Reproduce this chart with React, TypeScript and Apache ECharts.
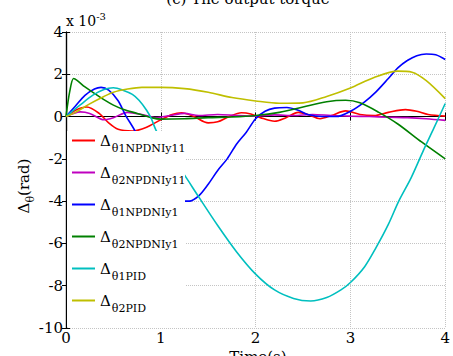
import React, { useEffect, useRef } from "react";
import * as echarts from "echarts";

// Δθ values in units of 1e-3 rad
const redT = [0, 0.1, 0.22, 0.35, 0.45, 0.55, 0.7, 0.85, 1.0, 1.12, 1.22, 1.35, 1.5, 1.6, 1.72, 1.85, 1.95, 2.05, 2.2, 2.32, 2.45, 2.55, 2.68, 2.8, 2.95, 3.1, 3.25, 3.4, 3.58, 3.7, 3.82, 4.0];
const redV = [0, 0.3, 0.45, 0.15, -0.3, -0.6, -0.68, -0.5, -0.15, 0.1, 0.18, 0.0, -0.3, -0.25, 0.0, 0.18, 0.12, -0.05, -0.22, -0.05, 0.2, 0.1, -0.1, 0.05, 0.27, 0.1, 0.05, 0.2, 0.33, 0.25, 0.1, 0.02];

const magT = [0, 0.15, 0.25, 0.4, 0.5, 0.65, 0.8, 0.95, 1.1, 1.25, 1.4, 1.6, 1.8, 2.0, 2.2, 2.4, 2.6, 2.8, 3.0, 3.2, 3.4, 3.6, 3.8, 4.0];
const magV = [0, 0.22, 0.15, -0.15, -0.05, 0.2, 0.1, -0.05, 0.05, 0.15, 0.05, 0.1, 0.05, 0.02, 0.08, 0.05, 0.1, 0.05, 0.02, 0.0, -0.03, -0.05, -0.1, -0.18];

const blueT = [0, 0.1, 0.2, 0.3, 0.37, 0.45, 0.55, 0.63, 0.73, 0.85, 1.0, 1.15, 1.25, 1.3, 1.4, 1.5, 1.6, 1.7, 1.8, 1.9, 2.0, 2.1, 2.2, 2.33, 2.45, 2.55, 2.7, 2.85, 3.0, 3.15, 3.27, 3.4, 3.5, 3.6, 3.7, 3.8, 3.9, 4.0];
const blueV = [0, 0.5, 1.0, 1.3, 1.38, 1.25, 0.75, 0.05, -0.7, -1.9, -3.1, -3.8, -4.0, -4.0, -3.75, -3.2, -2.55, -2.0, -1.3, -0.75, -0.1, 0.25, 0.4, 0.43, 0.3, 0.1, 0.0, 0.0, 0.25, 0.7, 1.17, 1.8, 2.3, 2.65, 2.88, 2.96, 2.92, 2.7];

const greenT = [0, 0.04, 0.08, 0.12, 0.2, 0.3, 0.4, 0.5, 0.6, 0.75, 0.9, 1.0, 1.25, 1.5, 1.75, 2.0, 2.25, 2.5, 2.75, 2.95, 3.1, 3.3, 3.5, 3.75, 4.0];
const greenV = [0, 1.2, 1.8, 1.7, 1.4, 1.1, 0.8, 0.54, 0.35, 0.15, -0.05, -0.12, -0.1, -0.05, -0.02, 0.05, 0.2, 0.45, 0.7, 0.77, 0.65, 0.2, -0.35, -1.2, -2.0];

const cyanT = [0, 0.15, 0.28, 0.4, 0.5, 0.6, 0.7, 0.77, 0.85, 0.9, 0.95, 1.1, 1.24, 1.4, 1.6, 1.8, 2.0, 2.2, 2.4, 2.58, 2.75, 2.9, 3.0, 3.15, 3.27, 3.4, 3.51, 3.64, 3.77, 3.88, 4.0];
const cyanV = [0, 0.55, 1.0, 1.28, 1.36, 1.25, 1.05, 0.77, 0.3, -0.1, -0.65, -1.8, -2.7, -3.8, -5.15, -6.4, -7.45, -8.2, -8.6, -8.72, -8.56, -8.2, -7.85, -7.1, -6.2, -5.1, -4.0, -2.9, -1.6, -0.55, 0.62];

const yellowT = [0, 0.1, 0.25, 0.4, 0.5, 0.65, 0.8, 1.0, 1.25, 1.5, 1.75, 2.0, 2.25, 2.5, 2.75, 3.0, 3.25, 3.5, 3.65, 3.8, 4.0];
const yellowV = [0, 0.2, 0.6, 0.95, 1.15, 1.3, 1.38, 1.38, 1.32, 1.15, 0.9, 0.74, 0.63, 0.65, 0.95, 1.35, 1.85, 2.15, 2.1, 1.7, 0.85];

const seriesNames = ["Δθ1NPDNIy11", "Δθ2NPDNIy11", "Δθ1NPDNIy1", "Δθ2NPDNIy1", "Δθ1PID", "Δθ2PID"];
const seriesColors = ["#ff0000", "#bf00bf", "#0000ff", "#008000", "#00bfbf", "#bfbf00"];
const xTicks = [0, 1, 2, 3, 4];
const yTicks = [-10, -8, -6, -4, -2, 0, 2, 4];

const FONT = "DejaVu Serif";

export default function App() {
  const ref = useRef<HTMLDivElement>(null);
  useEffect(() => {
    if (!ref.current) return;
    const chart = echarts.init(ref.current, undefined, { renderer: "svg" });
    const pairs = [
      [redT, redV],
      [magT, magV],
      [blueT, blueV],
      [greenT, greenV],
      [cyanT, cyanV],
      [yellowT, yellowV],
    ];
    const series = pairs.map(([t, v], i) => ({
      type: "line",
      name: seriesNames[i],
      data: t.map((x, k) => [x, v[k]]),
      showSymbol: false,
      smooth: 0.3,
      lineStyle: { color: seriesColors[i], width: 1.6 },
      itemStyle: { color: seriesColors[i] },
      z: 2,
    }));
    const gridLine = { show: true, lineStyle: { color: "#c4c4c4", type: "dotted", width: 1 } };
    const axisLine = { show: true, lineStyle: { color: "#000", width: 1.2 } };
    const tick = { show: true, inside: true, length: 4, lineStyle: { color: "#000" } };
    chart.setOption({
      animation: false,
      textStyle: { fontFamily: FONT },
      grid: { left: 66, right: 2, top: 32, bottom: 28 },
      xAxis: [
        {
          type: "value", min: xTicks[0], max: xTicks[xTicks.length - 1], interval: 1,
          axisLine, axisTick: tick, splitLine: gridLine,
          axisLabel: { color: "#000", fontFamily: FONT, fontSize: 15, margin: 2 },
        },
        {
          type: "value", position: "top", min: xTicks[0], max: xTicks[xTicks.length - 1], interval: 1,
          axisLine, axisTick: tick, splitLine: { show: false }, axisLabel: { show: false },
        },
      ],
      yAxis: [
        {
          type: "value", min: yTicks[0], max: yTicks[yTicks.length - 1], interval: 2,
          axisLine, axisTick: tick, splitLine: gridLine,
          axisLabel: { color: "#000", fontFamily: FONT, fontSize: 15, margin: 3 },
        },
        {
          type: "value", position: "right", min: yTicks[0], max: yTicks[yTicks.length - 1], interval: 2,
          axisLine, axisTick: tick, splitLine: { show: false }, axisLabel: { show: false },
        },
      ],
      legend: {
        orient: "vertical",
        left: 72,
        top: 133,
        padding: 0,
        itemGap: 11,
        itemWidth: 23,
        itemHeight: 2,
        icon: "rect",
        z: 5,
        data: seriesNames,
        formatter: (name: string) => `{d|Δ}{s|${name.slice(1)}}`,
        textStyle: {
          fontFamily: FONT,
          color: "#000",
          rich: {
            d: { fontFamily: FONT, fontSize: 15, color: "#000" },
            s: { fontFamily: FONT, fontSize: 11, color: "#000", padding: [16, 0, 0, 1] },
          },
        },
      },
      graphic: [
        { type: "rect", z: 4, shape: { x: 67, y: 131, width: 118, height: 196 }, style: { fill: "#fff" } },
        {
          type: "text", z: 10, x: 248, y: 6,
          style: { text: "(c) The output torque", fontFamily: FONT, fontSize: 15, fill: "#000", align: "center", verticalAlign: "bottom" },
        },
        {
          type: "text", z: 10, x: 258, y: 349,
          style: { text: "Time(s)", fontFamily: FONT, fontSize: 15, fill: "#000", align: "center", verticalAlign: "top" },
        },
        {
          type: "text", z: 10, x: 66, y: 31,
          style: {
            text: "{a|x 10}{b|-3}",
            align: "left", verticalAlign: "bottom",
            rich: {
              a: { fontFamily: FONT, fontSize: 14, fill: "#000" },
              b: { fontFamily: FONT, fontSize: 10, fill: "#000", padding: [0, 0, 10, 0] },
            },
          },
        },
        {
          type: "text", z: 10, x: 24, y: 186, rotation: Math.PI / 2,
          style: {
            text: "{a|Δ}{b|θ}{a|(rad)}",
            align: "center", verticalAlign: "middle",
            rich: {
              a: { fontFamily: FONT, fontSize: 15, fill: "#000" },
              b: { fontFamily: FONT, fontSize: 11, fill: "#000", padding: [12, 0, 0, 0] },
            },
          },
        },
      ],
      series,
    });
    return () => chart.dispose();
  }, []);
  return <div ref={ref} style={{ width: 453, height: 356, position: "absolute", left: 0, top: 0 }} />;
}
